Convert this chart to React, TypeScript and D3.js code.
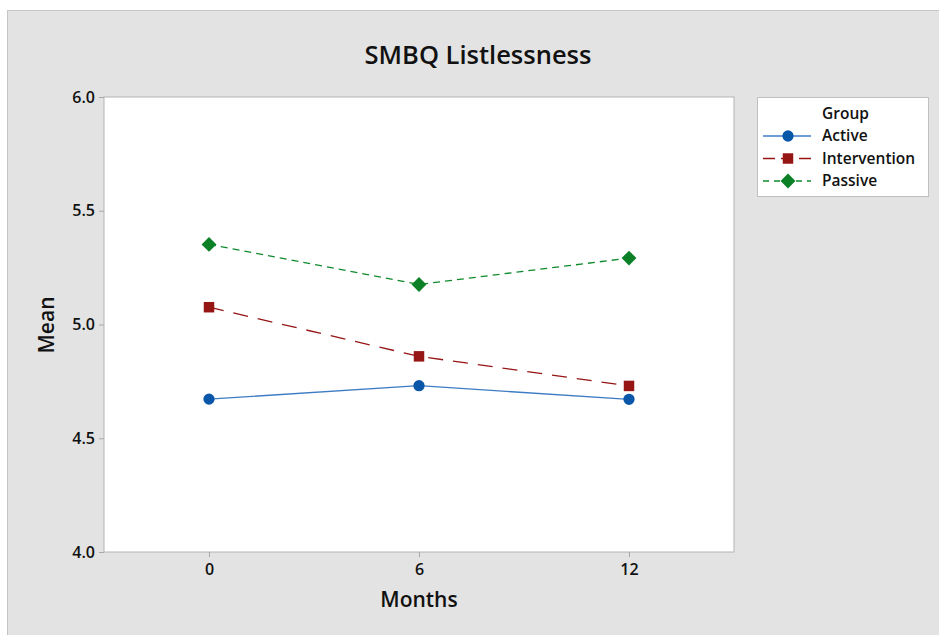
import * as d3 from "d3";
import { useEffect, useRef } from "react";

const months = [0, 6, 12];
const groups = ["Active", "Intervention", "Passive"];
const activeMeans = [4.672, 4.731, 4.671];
const interventionMeans = [5.076, 4.86, 4.73];
const passiveMeans = [5.352, 5.176, 5.292];
const yTicks = [4.0, 4.5, 5.0, 5.5, 6.0];

const FONT = "'Open Sans', 'Noto Sans', sans-serif";

function drawChart(el: SVGSVGElement) {
    const width = 939;
    const height = 635;
    const plot = { left: 104, top: 97, right: 734, bottom: 552 };

    const svg = d3.select(el);
    svg.selectAll("*").remove();

    // grey panel behind everything
    svg.append("rect")
        .attr("x", 7.5).attr("y", 10.5)
        .attr("width", width).attr("height", height)
        .attr("fill", "#e3e3e3")
        .attr("stroke", "#c6c6c6");

    svg.append("rect")
        .attr("x", plot.left).attr("y", plot.top)
        .attr("width", plot.right - plot.left).attr("height", plot.bottom - plot.top)
        .attr("fill", "#ffffff")
        .attr("stroke", "#b4b4b4");

    const x = d3.scaleLinear().domain([-3, 15]).range([plot.left, plot.right]);
    const y = d3.scaleLinear().domain([4, 6]).range([plot.bottom, plot.top]);

    const xAxis = svg.append("g")
        .attr("transform", `translate(0,${plot.bottom})`)
        .call(d3.axisBottom(x).tickValues(months).tickSize(5).tickPadding(7).tickFormat(d3.format("d")));
    const yAxis = svg.append("g")
        .attr("transform", `translate(${plot.left},0)`)
        .call(d3.axisLeft(y).tickValues(yTicks).tickSize(5).tickPadding(4).tickFormat(d3.format(".1f")));

    [xAxis, yAxis].forEach(ax => {
        ax.attr("font-size", null).attr("font-family", null);
        ax.select(".domain").remove();
        ax.selectAll("line").attr("stroke", "#a8a8a8");
        ax.selectAll("text")
            .attr("fill", "#111")
            .attr("font-family", FONT)
            .attr("font-size", 16)
            .attr("font-weight", 600);
    });

    svg.append("text")
        .attr("x", 478).attr("y", 64)
        .attr("text-anchor", "middle")
        .style("font-family", FONT).style("font-size", "25.5px").style("font-weight", 600)
        .attr("fill", "#111")
        .text("SMBQ Listlessness");

    svg.append("text")
        .attr("x", 419).attr("y", 607)
        .attr("text-anchor", "middle")
        .style("font-family", FONT).style("font-size", "21px").style("font-weight", 600)
        .attr("fill", "#111")
        .text("Months");

    svg.append("text")
        .attr("transform", `translate(54,325) rotate(-90)`)
        .attr("text-anchor", "middle")
        .style("font-family", FONT).style("font-size", "21px").style("font-weight", 600)
        .attr("fill", "#111")
        .text("Mean");

    const series = [
        { name: groups[0], values: activeMeans, color: "#0a56a8", line: "#3d7cc4", dash: null, symbol: d3.symbolCircle, size: 100, rot: 0 },
        { name: groups[1], values: interventionMeans, color: "#961515", line: "#961515", dash: "15,10", symbol: d3.symbolSquare, size: 110, rot: 0 },
        { name: groups[2], values: passiveMeans, color: "#0b8026", line: "#0e8a2c", dash: "7,5", symbol: d3.symbolSquare, size: 110, rot: 45 },
    ];

    const line = d3.line<number>().x((_, i) => x(months[i])).y(d => y(d));

    series.forEach(s => {
        svg.append("path")
            .datum(s.values)
            .attr("d", line)
            .attr("fill", "none")
            .attr("stroke", s.line)
            .attr("stroke-width", 1.3)
            .attr("stroke-dasharray", s.dash);
        svg.selectAll(null)
            .data(s.values)
            .enter()
            .append("path")
            .attr("d", d3.symbol().type(s.symbol).size(s.size))
            .attr("transform", (d, i) => `translate(${x(months[i])},${y(d)}) rotate(${s.rot})`)
            .attr("fill", s.color);
    });

    // legend
    const lg = svg.append("g");
    lg.append("rect")
        .attr("x", 757.5).attr("y", 97.5)
        .attr("width", 171).attr("height", 99)
        .attr("fill", "#fff").attr("stroke", "#c0c0c0");
    lg.append("text")
        .attr("x", 822).attr("y", 119)
        .style("font-family", FONT).style("font-size", "15.5px").style("font-weight", 600)
        .attr("fill", "#111")
        .text("Group");
    series.forEach((s, i) => {
        const yy = 136 + i * 22.5;
        lg.append("line")
            .attr("x1", 763).attr("x2", 811).attr("y1", yy).attr("y2", yy)
            .attr("stroke", s.line).attr("stroke-width", 1.3)
            .attr("stroke-dasharray", s.dash ? (i === 1 ? "12,6" : "6,5") : null);
        lg.append("path")
            .attr("d", d3.symbol().type(s.symbol).size(s.size))
            .attr("transform", `translate(788,${yy}) rotate(${s.rot})`)
            .attr("fill", s.color);
        lg.append("text")
            .attr("x", 822).attr("y", yy + 5)
            .style("font-family", FONT).style("font-size", "15.5px").style("font-weight", 600)
            .attr("fill", "#111")
            .text(s.name);
    });
}

export default function App() {
    const ref = useRef<SVGSVGElement>(null);
    useEffect(() => {
        if (ref.current) drawChart(ref.current);
    }, []);
    return (
        <svg ref={ref} width={939} height={635}
            style={{ position: "absolute", left: 0, top: 0, background: "#fff" }} />
    );
}
